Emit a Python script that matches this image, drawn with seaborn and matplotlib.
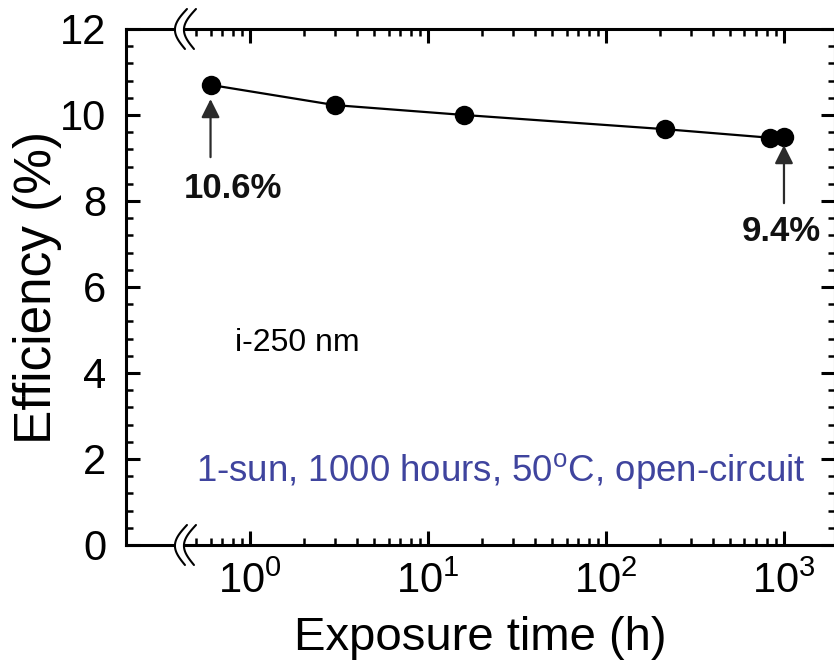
import numpy as np
import pandas as pd
import matplotlib
matplotlib.use("Agg")
import matplotlib.pyplot as plt
import seaborn as sns
from matplotlib.ticker import FixedLocator, MultipleLocator

# ---- data ----
exposure_h = [0.6, 3.0, 16.0, 215.0, 840.0, 1000.0]
efficiency = [10.70, 10.23, 10.00, 9.67, 9.47, 9.48]
x_major_ticks = [1, 10, 100, 1000]
start_label = "10.6%"
end_label = "9.4%"
sample_label = "i-250 nm"
condition_label = "1-sun, 1000 hours, 50$^{\\mathrm{o}}$C, open-circuit"

sns.set_theme(style="ticks")
plt.rcParams["font.family"] = ["Liberation Sans", "DejaVu Sans"]
plt.rcParams["mathtext.fontset"] = "custom"
plt.rcParams["mathtext.rm"] = "Liberation Sans"
plt.rcParams["mathtext.it"] = "Liberation Sans:italic"
plt.rcParams["mathtext.bf"] = "Liberation Sans:bold"
plt.rcParams["text.color"] = "black"
plt.rcParams["axes.labelcolor"] = "black"

W, H = 834, 666
fig = plt.figure(figsize=(W / 100, H / 100), dpi=100)
left_px, right_px, bottom_px, top_px = 126, 835, 545, 29
ax = fig.add_axes([left_px / W, 1 - bottom_px / H,
                   (right_px - left_px) / W, (bottom_px - top_px) / H])

df = pd.DataFrame({"t": exposure_h, "eff": efficiency})
sns.lineplot(data=df, x="t", y="eff", ax=ax, color="black", lw=1.6,
             marker="o", markersize=14, markeredgewidth=0, sort=True)

ax.set_xscale("log")
xmin, xmax = 0.201, 1935
ax.set_xlim(xmin, xmax)
ax.set_ylim(0, 12)

ax.xaxis.set_major_locator(FixedLocator(x_major_ticks))
minors = [s * 10.0 ** d for d in range(-1, 4) for s in range(2, 10)]
minors = [m for m in minors if 0.5 <= m <= xmax]
ax.xaxis.set_minor_locator(FixedLocator(minors))
ax.yaxis.set_major_locator(MultipleLocator(2))
ax.yaxis.set_minor_locator(MultipleLocator(0.4))

for s in ax.spines.values():
    s.set_linewidth(2.2)
    s.set_color("black")
ax.tick_params(which="both", direction="in", top=True, right=True,
               colors="black", labelcolor="black")
ax.tick_params(which="major", length=10, width=2.2, labelsize=30)
ax.tick_params(which="minor", length=5, width=1.8)
ax.tick_params(axis="y", which="major", pad=14)
ax.tick_params(axis="x", which="major", pad=12)

ax.set_xlabel("Exposure time (h)", fontsize=34, labelpad=10, color="black")
ax.set_ylabel("Efficiency (%)", fontsize=37, labelpad=-1, color="black")

# arrows and labels
arrow_kw = dict(arrowstyle="-|>", color="#2b2b2b", lw=1.6, mutation_scale=28,
                shrinkA=0, shrinkB=0)
ax.annotate("", xy=(exposure_h[0], 10.37), xytext=(exposure_h[0], 9.02),
            arrowprops=arrow_kw)
ax.annotate("", xy=(exposure_h[-1], 9.30), xytext=(exposure_h[-1], 7.95),
            arrowprops=arrow_kw)
ax.text(0.80, 8.30, start_label, fontsize=25, fontweight="bold",
        ha="center", va="center", color="#111111")
ax.text(960, 7.30, end_label, fontsize=25, fontweight="bold",
        ha="center", va="center", color="#111111")
ax.text(0.82, 4.70, sample_label, fontsize=23, ha="left", va="center",
        color="black")
ax.text(0.498, 1.72, condition_label, fontsize=26.4, ha="left", va="center",
        color="#3F449E")

# axis break marks on top and bottom spines
axw = right_px - left_px
axh = bottom_px - top_px
lx = np.log10(xmin)
xb = (np.log10(0.42) - lx) / (np.log10(xmax) - lx)
t = np.linspace(0, 1, 60)
hpx = 20
for ysp in (0.0, 1.0):
    ys = ysp + (hpx - 2 * hpx * t) / axh
    x1 = xb + (4 - 11 * np.sin(np.pi * t) - 2 * t) / axw
    x2 = x1 + 9 / axw
    ax.fill_betweenx(ys, x1, x2, color="white", transform=ax.transAxes,
                     clip_on=False, zorder=5, lw=0)
    ax.plot(x1, ys, color="black", lw=1.5, transform=ax.transAxes,
            clip_on=False, zorder=6)
    ax.plot(x2, ys, color="black", lw=1.5, transform=ax.transAxes,
            clip_on=False, zorder=6)

fig.savefig("out.png", dpi=100)
